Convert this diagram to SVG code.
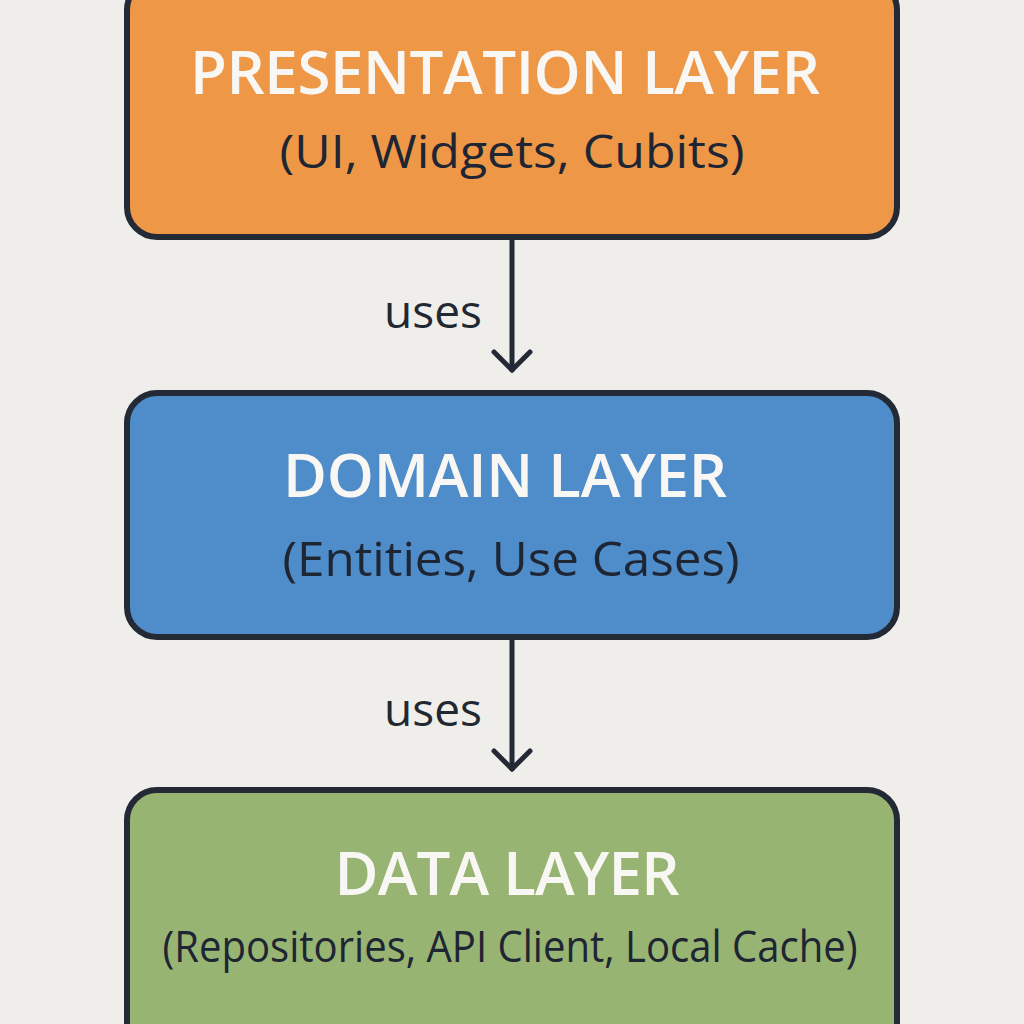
<svg xmlns="http://www.w3.org/2000/svg" width="1024" height="1024" viewBox="0 0 1024 1024">
  <style>
    .box { stroke: #232a35; stroke-width: 6; }
    .title { font-family: "Open Sans", "Liberation Sans", sans-serif; font-weight: 600; fill: #f8f7f3; text-anchor: middle; }
    .sub { font-family: "Open Sans", "Liberation Sans", sans-serif; font-weight: 400; fill: #1e2533; text-anchor: middle; }
    .lbl { font-family: "Open Sans", "Liberation Sans", sans-serif; font-weight: 500; fill: #222831; font-size: 46px; text-anchor: middle; }
    .conn { stroke: #232a35; stroke-width: 5; fill: none; stroke-linecap: round; stroke-linejoin: round; }
  </style>
  <rect x="0" y="0" width="1024" height="1024" fill="#efeeeb"/>

  <g id="presentation-layer">
    <rect class="box" x="127" y="-20" width="770" height="257" rx="30" ry="30" fill="#ee9747"/>
    <text class="title" x="505" y="94" font-size="60" textLength="630" lengthAdjust="spacing">PRESENTATION LAYER</text>
    <text class="sub" x="512" y="168" font-size="45" textLength="465" lengthAdjust="spacingAndGlyphs">(UI, Widgets, Cubits)</text>
  </g>

  <g id="domain-layer">
    <rect class="box" x="127" y="393" width="770" height="244" rx="30" ry="30" fill="#4f8cca"/>
    <text class="title" x="505" y="497" font-size="60" textLength="444" lengthAdjust="spacing">DOMAIN LAYER</text>
    <text class="sub" x="511" y="576" font-size="48" textLength="457" lengthAdjust="spacingAndGlyphs">(Entities, Use Cases)</text>
  </g>

  <g id="data-layer">
    <rect class="box" x="127" y="790" width="770" height="270" rx="30" ry="30" fill="#98b473"/>
    <text class="title" x="507" y="895" font-size="60" textLength="345" lengthAdjust="spacing">DATA LAYER</text>
    <text class="sub" x="510" y="962" font-size="44" textLength="695" lengthAdjust="spacingAndGlyphs">(Repositories, API Client, Local Cache)</text>
  </g>

  <g id="connectors">
    <line class="conn" x1="512" y1="240" x2="512" y2="370"/>
    <polyline class="conn" points="494,352 512,370 530,352"/>
    <text class="lbl" x="433" y="328">uses</text>
    <line class="conn" x1="512" y1="640" x2="512" y2="769"/>
    <polyline class="conn" points="494,751 512,769 530,751"/>
    <text class="lbl" x="433" y="726">uses</text>
  </g>
</svg>
